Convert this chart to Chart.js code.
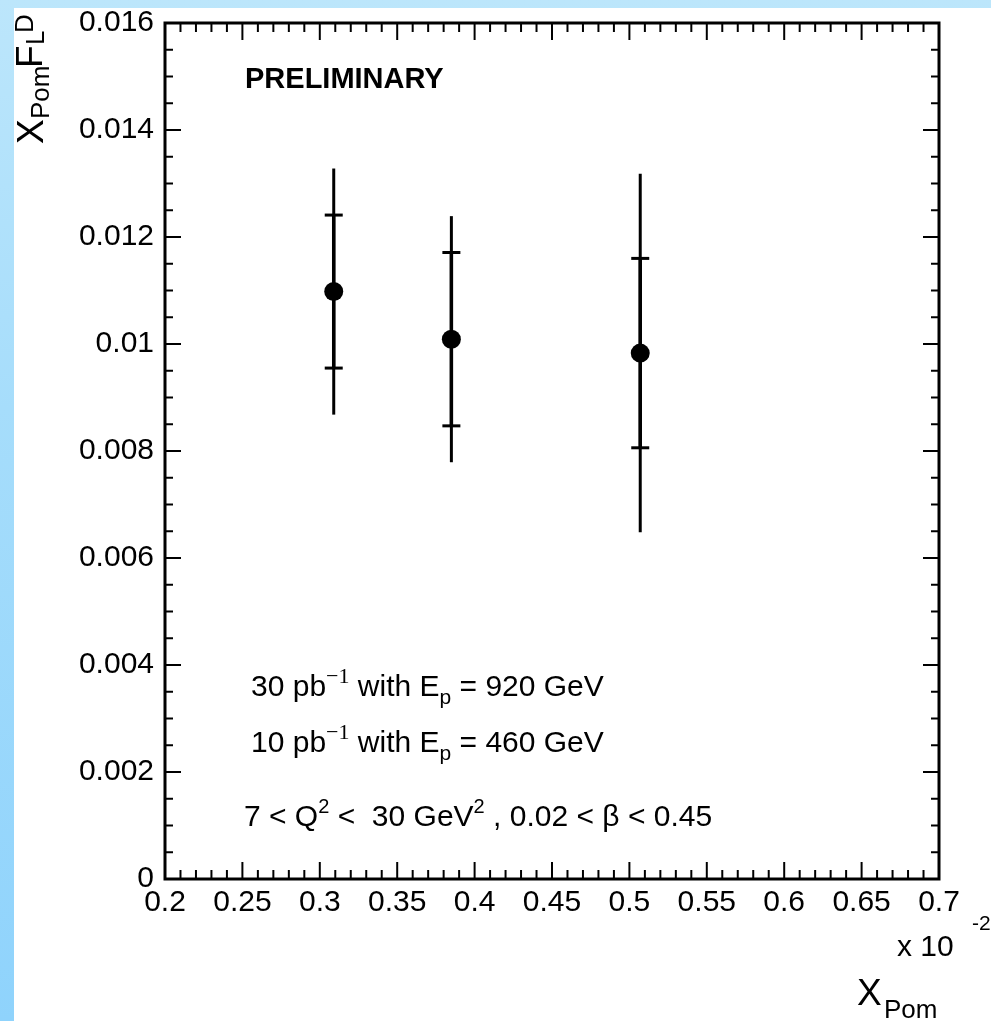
<!DOCTYPE html>
<html>
<head>
<meta charset="utf-8">
<script src="https://cdn.jsdelivr.net/npm/chart.js@4.4.1/dist/chart.umd.min.js"></script>
<style>
html, body { margin: 0; padding: 0; }
body { width: 991px; height: 1021px; overflow: hidden; background: linear-gradient(180deg, #bce6fb 0%, #a6ddfb 40%, #8fd3fc 100%); }
canvas { display: block; }
</style>
</head>
<body>
<canvas id="chart" width="991" height="1021"></canvas>
<script>
/* x_Pom F_L^D vs x_Pom, preliminary */

const xPom = [0.309, 0.385, 0.507];          // x 10^-2
const fLD = [0.01098, 0.01009, 0.00983];
const statErr = [0.00143, 0.00162, 0.00177];
const totErr = [0.0023, 0.0023, 0.00335];

const xTicks = [0.2, 0.25, 0.3, 0.35, 0.4, 0.45, 0.5, 0.55, 0.6, 0.65, 0.7];
const xTickLabels = ['0.2', '0.25', '0.3', '0.35', '0.4', '0.45', '0.5', '0.55', '0.6', '0.65', '0.7'];
const yTicks = [0, 0.002, 0.004, 0.006, 0.008, 0.01, 0.012, 0.014, 0.016];
const yTickLabels = ['0', '0.002', '0.004', '0.006', '0.008', '0.01', '0.012', '0.014', '0.016'];

const SANS = '"Liberation Sans", Arial, sans-serif';
const SERIF = '"Liberation Serif", "Times New Roman", serif';

function drawRich(ctx, x, y, parts) {
  let cx = x;
  for (const p of parts) {
    ctx.font = (p.bold ? 'bold ' : '') + p.size + 'px ' + (p.serif ? SERIF : SANS);
    ctx.fillText(p.t, cx, y + (p.dy || 0));
    cx += ctx.measureText(p.t).width;
  }
}

function lumiLine(n, e) {
  return [
    { t: n + ' pb', size: 30 },
    { t: '\u22121', size: 22, serif: true, dy: -13 },
    { t: ' with E', size: 30 },
    { t: 'p', size: 21, dy: 8 },
    { t: ' = ' + e + ' GeV', size: 30 }
  ];
}

const panel = {
  id: 'panel',
  beforeDraw(chart) {
    const ctx = chart.ctx;
    ctx.save();
    ctx.fillStyle = '#fff';
    ctx.fillRect(14, 8, chart.width - 14, chart.height - 8);
    ctx.restore();
  }
};

const errorBars = {
  id: 'errorBars',
  beforeDatasetsDraw(chart) {
    const { ctx, scales: { x, y } } = chart;
    ctx.save();
    ctx.strokeStyle = '#000';
    const seg = (x1, y1, x2, y2) => { ctx.beginPath(); ctx.moveTo(x1, y1); ctx.lineTo(x2, y2); ctx.stroke(); };
    xPom.forEach((xv, i) => {
      const px = x.getPixelForValue(xv);
      ctx.lineWidth = 3;
      seg(px, y.getPixelForValue(fLD[i] - totErr[i]), px, y.getPixelForValue(fLD[i] + totErr[i]));
      ctx.lineWidth = 3.5;
      seg(px, y.getPixelForValue(fLD[i] - statErr[i]), px, y.getPixelForValue(fLD[i] + statErr[i]));
      ctx.lineWidth = 3;
      [fLD[i] - statErr[i], fLD[i] + statErr[i]].forEach(v => {
        const py = y.getPixelForValue(v);
        seg(px - 9, py, px + 9, py);
      });
    });
    ctx.restore();
  }
};

const frame = {
  id: 'frame',
  afterDraw(chart) {
    const { ctx, chartArea: a, scales: { x, y } } = chart;
    ctx.save();
    ctx.strokeStyle = '#000';
    ctx.lineWidth = 2;
    const seg = (x1, y1, x2, y2) => { ctx.beginPath(); ctx.moveTo(x1, y1); ctx.lineTo(x2, y2); ctx.stroke(); };
    // x ticks, bottom and top
    for (let i = 0; i < xTicks.length; i++) {
      const px = x.getPixelForValue(xTicks[i]);
      seg(px, a.bottom, px, a.bottom - 17);
      seg(px, a.top, px, a.top + 17);
      if (i < xTicks.length - 1) {
        for (let k = 1; k < 5; k++) {
          const mx = x.getPixelForValue(xTicks[i] + (xTicks[i + 1] - xTicks[i]) * k / 5);
          seg(mx, a.bottom, mx, a.bottom - 9);
          seg(mx, a.top, mx, a.top + 9);
        }
      }
    }
    // y ticks, left and right
    for (let i = 0; i < yTicks.length; i++) {
      const py = y.getPixelForValue(yTicks[i]);
      seg(a.left, py, a.left + 16, py);
      seg(a.right, py, a.right - 16, py);
      if (i < yTicks.length - 1) {
        for (let k = 1; k < 4; k++) {
          const my = y.getPixelForValue(yTicks[i] + (yTicks[i + 1] - yTicks[i]) * k / 4);
          seg(a.left, my, a.left + 8, my);
          seg(a.right, my, a.right - 8, my);
        }
      }
    }
    ctx.lineWidth = 3;
    ctx.strokeRect(a.left, a.top, a.right - a.left, a.bottom - a.top);

    ctx.fillStyle = '#000';
    ctx.textBaseline = 'alphabetic';
    ctx.textAlign = 'left';

    // labels inside the frame
    drawRich(ctx, 245, 88, [{ t: 'PRELIMINARY', size: 29, bold: true }]);
    drawRich(ctx, 251, 696, lumiLine('30', '920'));
    drawRich(ctx, 251, 752, lumiLine('10', '460'));
    drawRich(ctx, 244, 826, [
      { t: '7 < Q', size: 30 },
      { t: '2', size: 20, dy: -13 },
      { t: ' <  30 GeV', size: 30 },
      { t: '2', size: 20, dy: -13 },
      { t: ' , 0.02 < \u03b2 < 0.45', size: 30 }
    ]);

    // x axis exponent and title
    drawRich(ctx, 897, 956, [{ t: 'x 10', size: 30 }]);
    drawRich(ctx, 972, 930, [{ t: '-2', size: 21 }]);
    drawRich(ctx, 857, 1005, [{ t: 'X', size: 37 }]);
    drawRich(ctx, 884, 1018, [{ t: 'Pom', size: 26 }]);

    // y axis title, rotated
    ctx.save();
    ctx.translate(43, 144);
    ctx.rotate(-Math.PI / 2);
    drawRich(ctx, 0, 0, [{ t: 'X', size: 37 }]);
    drawRich(ctx, 25, 6, [{ t: 'Pom', size: 26 }]);
    drawRich(ctx, 76, -1, [{ t: 'F', size: 37 }]);
    drawRich(ctx, 99, 1, [{ t: 'L', size: 26 }]);
    drawRich(ctx, 111, -10, [{ t: 'D', size: 26 }]);
    ctx.restore();

    ctx.restore();
  }
};

new Chart(document.getElementById('chart'), {
  type: 'scatter',
  data: {
    datasets: [{
      data: xPom.map((v, i) => ({ x: v, y: fLD[i] })),
      pointRadius: 9.5,
      pointHoverRadius: 9.5,
      backgroundColor: '#000',
      borderColor: '#000',
      borderWidth: 0
    }]
  },
  options: {
    responsive: false,
    animation: false,
    layout: { padding: { top: 23, right: 52, left: 0, bottom: 0 } },
    plugins: { legend: { display: false }, tooltip: { enabled: false } },
    scales: {
      x: {
        type: 'linear', min: 0.2, max: 0.7,
        border: { display: false },
        grid: { display: false, drawTicks: false },
        afterBuildTicks: s => { s.ticks = xTicks.map(v => ({ value: v })); },
        afterFit: s => { s.height = 142; s.paddingLeft = 0; s.paddingRight = 0; },
        ticks: {
          autoSkip: false, maxRotation: 0, padding: 6, color: '#000',
          font: { family: SANS, size: 30 },
          callback: (v, i) => xTickLabels[i]
        }
      },
      y: {
        type: 'linear', min: 0, max: 0.016,
        border: { display: false },
        grid: { display: false, drawTicks: false },
        afterBuildTicks: s => { s.ticks = yTicks.map(v => ({ value: v })); },
        afterFit: s => { s.width = 165; s.paddingTop = 0; s.paddingBottom = 0; },
        ticks: {
          autoSkip: false, padding: 11, color: '#000',
          font: { family: SANS, size: 30 },
          callback: (v, i) => yTickLabels[i]
        }
      }
    }
  },
  plugins: [panel, errorBars, frame]
});
</script>
</body>
</html>
